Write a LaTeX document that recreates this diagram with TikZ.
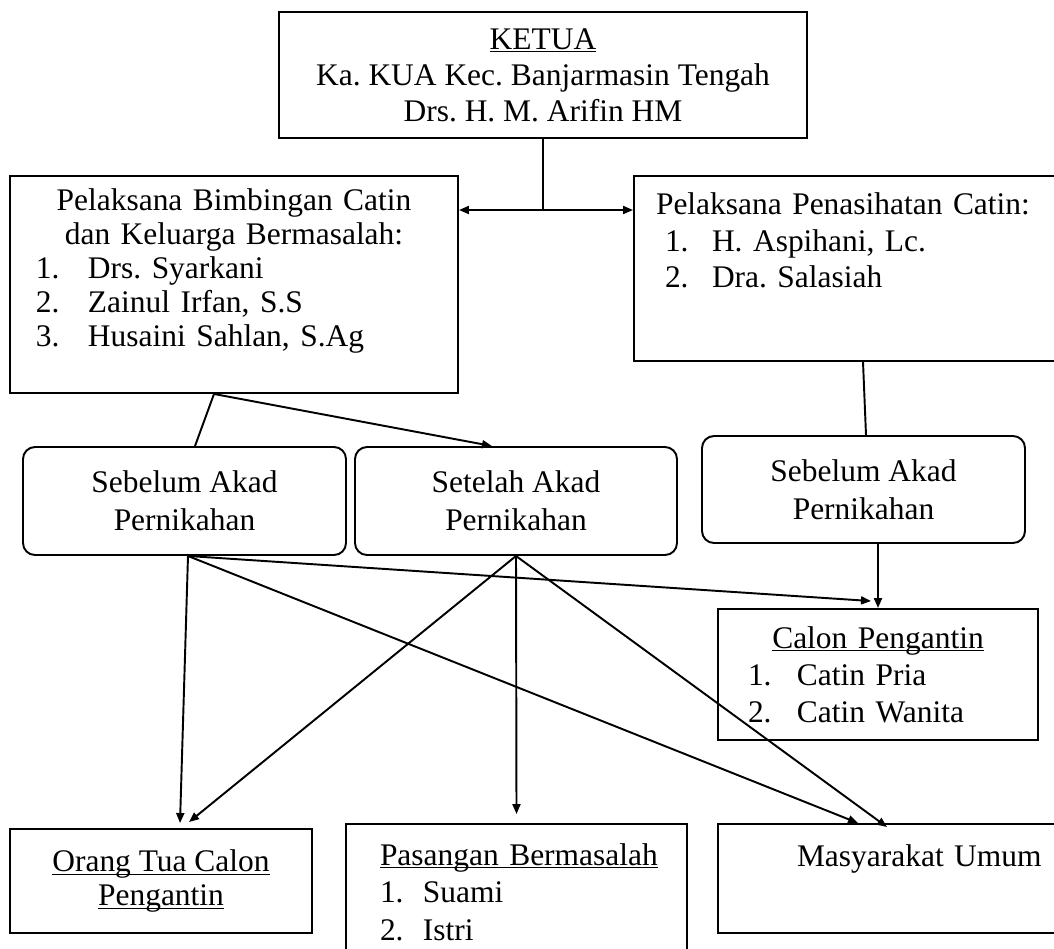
\documentclass[tikz,border=0pt]{standalone}
\usepackage{fontspec}
\setmainfont{Liberation Serif}
\usetikzlibrary{arrows.meta}
\frenchspacing

\newcommand{\ctr}[1]{\hspace*{\fill}#1\hspace*{\fill}\null}
\newcommand{\butir}[3][1cm]{\makebox[#1][l]{#2}#3}
\newcommand{\garis}[1]{\underline{\smash{#1}}\vphantom{#1}}

\begin{document}
\begin{tikzpicture}[
    >={Triangle[length=0.2cm, width=0.16cm]},
    box/.style={draw, rectangle, line width=1.1pt, inner sep=0pt, font=\fontsize{17.9}{20.5}\selectfont},
    rbox/.style={box, rounded corners=0.24cm, align=center, font=\fontsize{17.9}{21.6}\selectfont},
    link/.style={line width=1.1pt}
]
    \useasboundingbox (0,0) rectangle (21.08,-18.96);

    \node[box, minimum width=10.56cm, minimum height=2.52cm, align=center] (ketua) at (10.86,-1.5) {\garis{KETUA}\\Ka. KUA Kec. Banjarmasin Tengah\\Drs. H. M. Arifin HM};
    \node[box, minimum width=8.96cm, minimum height=4.34cm, text width=7.92cm, inner xsep=0.52cm, align=left, font=\fontsize{17.9}{19.4}\selectfont] (bimbingan) at (4.68,-5.69) {\ctr{Pelaksana Bimbingan Catin}\\ \ctr{dan Keluarga Bermasalah:}\\ \butir[1.04cm]{1.}{Drs. Syarkani}\\ \butir[1.04cm]{2.}{Zainul Irfan, S.S}\\ \butir[1.04cm]{3.}{Husaini Sahlan, S.Ag}\\ \mbox{}};
    \node[box, minimum width=8.52cm, minimum height=3.7cm, text width=7.64cm, inner xsep=0.44cm, align=left, font=\fontsize{17.9}{20.8}\selectfont] (nasihat) at (16.94,-5.37) {Pelaksana Penasihatan Catin:\\ \hspace*{0.18cm}\butir[0.94cm]{1.}{H. Aspihani, Lc.}\\ \hspace*{0.18cm}\butir[0.94cm]{2.}{Dra. Salasiah}\\[0.4cm] \mbox{}};

    \node[rbox, minimum width=6.46cm, minimum height=2.16cm] (sebelumA) at (3.69,-10.02) {Sebelum Akad\\Pernikahan};
    \node[rbox, minimum width=6.44cm, minimum height=2.16cm] (setelah) at (10.32,-10.02) {Setelah Akad\\Pernikahan};
    \node[rbox, minimum width=6.46cm, minimum height=2.14cm] (sebelumB) at (17.27,-9.79) {Sebelum Akad\\Pernikahan};

    \node[box, minimum width=6.4cm, minimum height=2.62cm, text width=5.2cm, inner xsep=0.6cm, align=left, font=\fontsize{17.9}{21}\selectfont] (calon) at (17.56,-13.49) {\ctr{\garis{Calon Pengantin}}\\ \butir[0.98cm]{1.}{Catin Pria}\\ \butir[0.98cm]{2.}{Catin Wanita}};

    \node[box, minimum width=6.04cm, minimum height=2.08cm, align=center, font=\fontsize{17.9}{19.4}\selectfont] (ortu) at (3.22,-17.62) {\garis{Orang Tua Calon}\\\garis{Pengantin}};
    \node[box, minimum width=6.82cm, minimum height=2.72cm, text width=6cm, inner xsep=0.41cm, align=left, font=\fontsize{17.9}{21.3}\selectfont] (pasangan) at (10.33,-17.84) {\hspace*{0.27cm}\mbox{\garis{Pasangan Bermasalah}}\\ \hspace*{0.27cm}\butir[0.86cm]{1.}{Suami}\\ \hspace*{0.27cm}\butir[0.86cm]{2.}{Istri}};
    \node[box, minimum width=6.84cm, minimum height=2.18cm, text width=6.84cm, align=left] (masyarakat) at (17.78,-17.57) {\hspace*{1.58cm}Masyarakat Umum\\[0.18cm] \mbox{}};

    % ketua ke dua pelaksana
    \coordinate (cabang) at (10.86,-4.2);
    \draw[link] (ketua.south) -- (cabang);
    \draw[link, <->] (bimbingan.east |- cabang) -- (nasihat.west |- cabang);

    \draw[link] ([xshift=-0.4cm]bimbingan.south) -- ([xshift=0.21cm]sebelumA.north);
    \draw[link, ->] ([xshift=-0.4cm]bimbingan.south) -- ([xshift=-0.48cm]setelah.north);
    \draw[link] ([xshift=0.32cm]nasihat.south) -- ([xshift=0.05cm]sebelumB.north);
    \draw[link, ->] ([xshift=0.29cm]sebelumB.south) -- (calon.north);

    % sasaran
    \coordinate (sa) at ([xshift=0.07cm]sebelumA.south);
    \draw[link, ->] (sa) -- ([xshift=0.38cm, yshift=0.1cm]ortu.north);
    \draw[link, ->] (sa) -- ([xshift=-0.14cm, yshift=0.14cm]calon.north);
    \draw[link, ->] (sa) -- ([xshift=-0.62cm]masyarakat.north);
    \draw[link, ->] (setelah.south) -- ([xshift=0.56cm, yshift=0.12cm]ortu.north);
    \draw[link, ->] (setelah.south) -- ([yshift=0.18cm]pasangan.north);
    \draw[link, ->] (setelah.south) -- ([xshift=-0.04cm, yshift=-0.08cm]masyarakat.north);
\end{tikzpicture}
\end{document}
